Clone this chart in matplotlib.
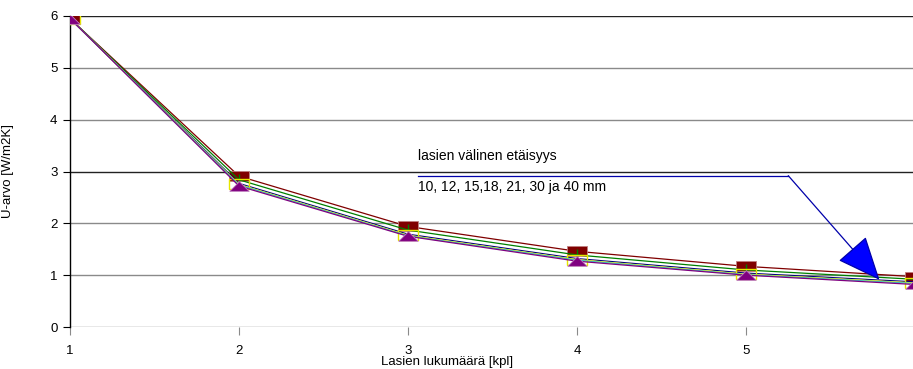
import matplotlib
matplotlib.use("Agg")
import matplotlib.pyplot as plt

plt.rcParams["font.family"] = ["Liberation Sans", "DejaVu Sans"]

# ==================================================
# DATA
# ==================================================

panes = [1, 2, 3, 4, 5, 6]
pane_labels = ["1", "2", "3", "4", "5", ""]

u_10mm = [5.95, 2.91, 1.94, 1.46, 1.17, 0.97]
u_12mm = [5.95, 2.84, 1.87, 1.39, 1.10, 0.92]
u_15mm = [5.95, 2.77, 1.79, 1.32, 1.04, 0.87]
u_18mm = [5.95, 2.75, 1.77, 1.30, 1.02, 0.85]
u_21mm = [5.95, 2.74, 1.76, 1.29, 1.01, 0.84]
u_40mm = [5.95, 2.72, 1.75, 1.27, 1.00, 0.82]

y_ticks = [0, 1, 2, 3, 4, 5, 6]

# wide, flat markers
rect = [(-1, -0.5), (1, -0.5), (1, 0.5), (-1, 0.5), (-1, -0.5)]
tri = [(-1, -0.5), (1, -0.5), (0, 0.5), (-1, -0.5)]

# ==================================================
# FIGURE
# ==================================================

fig = plt.figure(figsize=(9.13, 3.69), dpi=100)
ax = fig.add_axes([70 / 913, 1 - 327 / 369, 845 / 913, 311 / 369])

ax.set_xlim(1, 6)
ax.set_ylim(0, 6)

for yv in y_ticks:
    dark = yv in (3, 6)
    ax.axhline(yv, color="#222222" if dark else "#8a8a8a", lw=1.0, zorder=1)

ax.plot(panes, u_10mm, color="#800000", lw=0.9, marker=rect, ms=14,
        mfc="#800000", mec="#c08080", mew=0.6, zorder=3)
ax.plot(panes, u_12mm, color="#008000", lw=0.9, marker="|", ms=8,
        mec="#008000", mew=1.0, zorder=3)
ax.plot(panes, u_15mm, color="#000080", lw=0.9, zorder=3)
ax.plot(panes, u_18mm, color="#ffff00", lw=0.9, marker=rect, ms=14,
        mfc="none", mec="#e6e600", mew=1.0, zorder=3)
ax.plot(panes, u_21mm, color="#40c0c0", lw=0.9, zorder=3)
ax.plot(panes, u_40mm, color="#800080", lw=0.9, marker=tri, ms=14,
        mfc="#800080", mec="#c080c0", mew=0.6, zorder=4)

# annotation for the spacings
ax.text(3.06, 3.3, "lasien välinen etäisyys", fontsize=10, va="center")
ax.text(3.06, 2.7, "10, 12, 15,18, 21, 30 ja 40 mm", fontsize=10,
        va="center")
ax.plot([3.06, 5.25], [2.92, 2.92], color="#0000aa", lw=0.9, zorder=5)
ax.annotate("", xy=(5.79, 0.91), xytext=(5.25, 2.92),
            arrowprops=dict(arrowstyle="-|>,head_length=1.4,head_width=0.6",
                            color="#0000aa", fc="#0000ff", lw=0.9,
                            mutation_scale=20, shrinkA=0, shrinkB=0),
            zorder=5)

# ==================================================
# AXES STYLE
# ==================================================

for side in ["top", "right", "bottom"]:
    ax.spines[side].set_visible(False)
ax.spines["left"].set_color("black")
ax.spines["left"].set_linewidth(1.0)

ax.set_yticks(y_ticks)
ax.set_xticks(panes)
ax.set_xticklabels(pane_labels)
ax.tick_params(axis="y", length=5, width=0.8, labelsize=9.5, pad=4)
ax.tick_params(axis="x", length=6, width=0.8, labelsize=9.5, pad=7,
               color="#8a8a8a")

ax.set_ylabel("U-arvo [W/m2K]", fontsize=9.5)
ax.yaxis.set_label_coords(-0.066, 0.5)
ax.set_xlabel("Lasien lukumäärä [kpl]", fontsize=9.5)
ax.xaxis.set_label_coords(0.446, -0.094)

fig.savefig("out.png", dpi=100)
